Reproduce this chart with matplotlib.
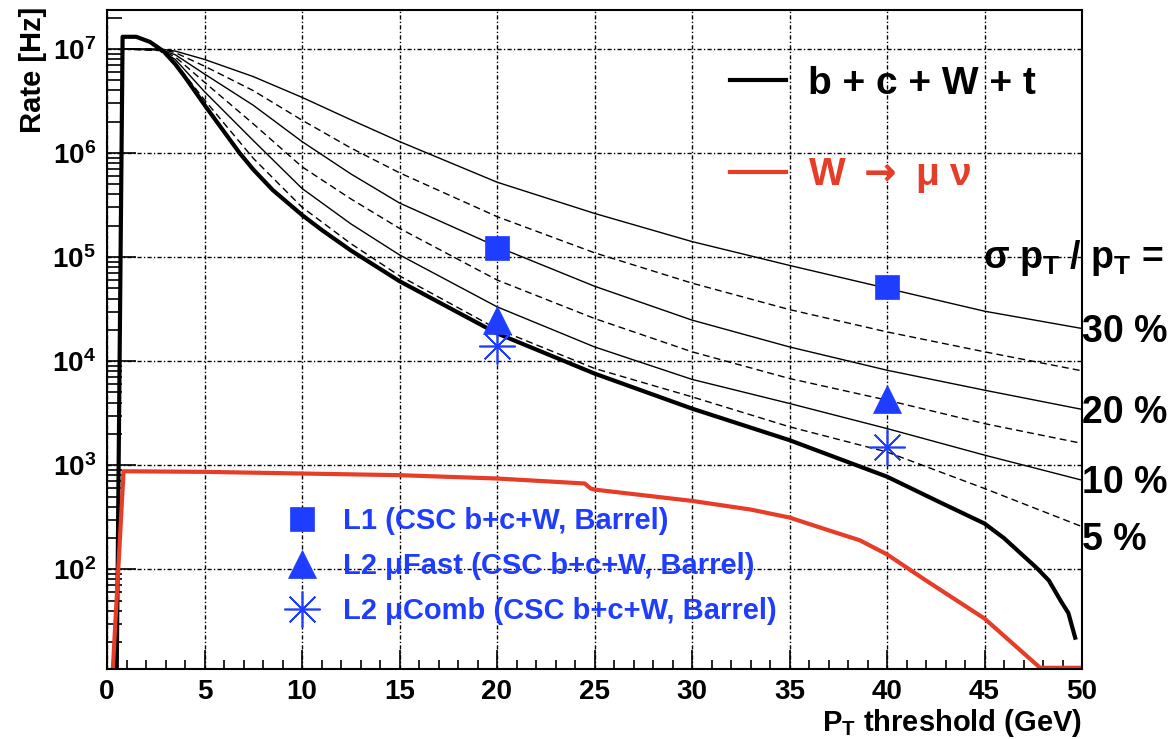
import matplotlib
matplotlib.use('Agg')
import matplotlib.pyplot as plt
from matplotlib.lines import Line2D
from matplotlib.ticker import (FixedLocator, LogLocator, LogFormatterMathtext, MultipleLocator,
                               NullFormatter)

# ---------------- data ----------------
x_total = [0.5, 0.8, 1.5, 2.2, 2.9, 3.5, 4, 5, 6.8, 7.5, 8.5, 10, 11, 12.5, 15, 20, 25, 30, 35, 40,
           42.5, 45, 46, 47.7, 48.3, 48.9, 49.3, 49.65]
rate_total = [11, 1.31e7, 1.31e7, 1.17e7, 9.5e6, 7.15e6, 5.37e6, 2.9e6, 1.0e6, 6.95e5, 4.41e5, 2.54e5,
              1.83e5, 1.16e5, 5.87e4, 1.85e4, 7.6e3, 3.5e3, 1.74e3, 7.76e2, 4.6e2, 2.75e2, 1.99e2,
              1.02e2, 7.8e1, 5.0e1, 3.8e1, 2.2e1]

x_w = [0.3, 0.85, 5, 10, 15, 20, 24.5, 24.8, 25, 30, 33, 35, 37, 38.6, 40, 42, 45, 47.85, 50]
rate_w = [11, 875, 863, 832, 802, 745, 667, 597, 583, 454, 375, 314, 237, 190, 139, 78, 33.6, 11.3, 11.3]

x_sigma = [0.8, 2.7, 3.5, 5, 7.5, 10, 12.5, 15, 20, 25, 30, 35, 40, 45, 50]
rate_sigma30 = [1.0e7, 1.0e7, 9.55e6, 7.94e6, 5.43e6, 3.43e6, 2.09e6, 1.29e6, 5.25e5, 2.63e5, 1.41e5,
                8.32e4, 5.01e4, 3.02e4, 2.06e4]
rate_sigma25 = [1.0e7, 1.0e7, 9.23e6, 6.84e6, 3.98e6, 2.07e6, 1.12e6, 6.46e5, 2.45e5, 1.10e5, 5.62e4,
                3.13e4, 1.91e4, 1.23e4, 8.07e3]
rate_sigma20 = [1.0e7, 9.89e6, 8.81e6, 5.75e6, 2.88e6, 1.29e6, 6.31e5, 3.31e5, 1.26e5, 5.25e4, 2.48e4,
                1.37e4, 8.18e3, 5.26e3, 3.44e3]
rate_sigma15 = [1.0e7, 9.77e6, 8.41e6, 4.79e6, 1.91e6, 7.38e5, 3.63e5, 1.89e5, 6.03e4, 2.57e4, 1.23e4,
                6.81e3, 4.22e3, 2.51e3, 1.62e3]
rate_sigma10 = [1.0e7, 9.77e6, 7.94e6, 3.89e6, 1.32e6, 4.57e5, 2.09e5, 1.05e5, 3.33e4, 1.37e4, 6.68e3,
                3.92e3, 2.25e3, 1.25e3, 7.18e2]
rate_sigma05 = [1.0e7, 9.66e6, 7.41e6, 3.24e6, 8.91e5, 3.02e5, 1.35e5, 6.61e4, 2.04e4, 8.51e3, 4.54e3,
                2.34e3, 1.34e3, 5.97e2, 2.57e2]

x_points = [20, 40]
rate_l1 = [1.21e5, 5.2e4]
rate_l2fast = [2.48e4, 4.3e3]
rate_l2comb = [1.39e4, 1.5e3]

legend_curves = ['b + c + W + t', 'W $\\rightarrow$ \u03bc \u03bd']
legend_points = ['L1 (CSC b+c+W, Barrel)', 'L2 \u03bcFast (CSC b+c+W, Barrel)',
                 'L2 \u03bcComb (CSC b+c+W, Barrel)']
sigma_labels = ['30 %', '20 %', '10 %', '5 %']
x_ticks = [0, 5, 10, 15, 20, 25, 30, 35, 40, 45, 50]
y_ticks = [1e2, 1e3, 1e4, 1e5, 1e6, 1e7]

# ---------------- style ----------------
plt.rcParams['font.family'] = ['Liberation Sans', 'DejaVu Sans']
plt.rcParams['font.weight'] = 'bold'
plt.rcParams['axes.labelweight'] = 'bold'
plt.rcParams['mathtext.fontset'] = 'custom'
plt.rcParams['mathtext.rm'] = 'Liberation Sans:bold'
plt.rcParams['mathtext.it'] = 'Liberation Sans:bold'
plt.rcParams['mathtext.bf'] = 'Liberation Sans:bold'
plt.rcParams['mathtext.sf'] = 'Liberation Sans:bold'

BLUE = '#1f3dff'
RED = '#e63c28'

W, H = 1169, 739
fig = plt.figure(figsize=(W / 100, H / 100), dpi=100)
ax = fig.add_axes([107 / W, 1 - 669 / H, 975 / W, 659 / H])

ax.set_yscale('log')
ax.set_xlim(0, 50)
ax.set_ylim(11, 2.37e7)

gridstyle = (0, (3, 1.6, 1, 1.6))
ax.grid(True, which='major', color='black', linestyle=gridstyle, linewidth=1.0)

thin = dict(color='black', linewidth=1.0)
dash = (0, (5, 3))
ax.plot(x_sigma, rate_sigma30, linestyle='-', **thin)
ax.plot(x_sigma, rate_sigma25, linestyle=dash, **thin)
ax.plot(x_sigma, rate_sigma20, linestyle='-', **thin)
ax.plot(x_sigma, rate_sigma15, linestyle=dash, **thin)
ax.plot(x_sigma, rate_sigma10, linestyle='-', **thin)
ax.plot(x_sigma, rate_sigma05, linestyle=dash, **thin)

h_total, = ax.plot(x_total, rate_total, color='black', linewidth=3.0, solid_joinstyle='round')
h_w, = ax.plot(x_w, rate_w, color=RED, linewidth=3.0, solid_joinstyle='round')

ms_sq, ms_tri, ms_ast = 17, 20, 26
ax.plot(x_points, rate_l1, linestyle='none', marker='s', markersize=ms_sq, color=BLUE, markeredgewidth=0.5)
ax.plot(x_points, rate_l2fast, linestyle='none', marker='^', markersize=ms_tri, color=BLUE, markeredgewidth=0.5)
ax.plot(x_points, rate_l2comb, linestyle='none', marker=(8, 2, 0), markersize=ms_ast, color=BLUE,
        markeredgewidth=1.2)

# ticks
ax.set_xticks(x_ticks)
ax.xaxis.set_minor_locator(MultipleLocator(1))
ax.yaxis.set_major_locator(FixedLocator(y_ticks))
ax.yaxis.set_major_formatter(LogFormatterMathtext())
ax.yaxis.set_minor_locator(LogLocator(base=10, subs=range(2, 10), numticks=20))
ax.yaxis.set_minor_formatter(NullFormatter())
ax.tick_params(axis='x', which='major', direction='in', length=13.5, width=1.2, top=False,
               labelsize=20, pad=7)
ax.tick_params(axis='x', which='minor', direction='in', length=6.8, width=1.2, top=False)
ax.tick_params(axis='y', which='major', direction='in', length=21, width=1.2, right=False,
               labelsize=20, pad=8)
ax.tick_params(axis='y', which='minor', direction='in', length=10.5, width=1.2, right=False)
for s in ax.spines.values():
    s.set_linewidth(1.5)

ax.set_xlabel(r'P$_{T}$ threshold (GeV)', loc='right', fontsize=21, fontweight='bold')
ax.xaxis.set_label_coords(1.0, -0.058)
ax.set_ylabel('Rate [Hz]', loc='top', fontsize=21, fontweight='bold')
ax.yaxis.set_label_coords(-0.062, 1.005)

# legends
leg1 = ax.legend([h_total, h_w], legend_curves, loc='upper left',
                 bbox_to_anchor=(730 / W, 1 - 66 / H), bbox_transform=fig.transFigure,
                 frameon=False, fontsize=28, borderpad=0, borderaxespad=0,
                 handlelength=1.45, handletextpad=0.55, labelspacing=1.4)
for t, c in zip(leg1.get_texts(), ['black', RED]):
    t.set_color(c)
leg1.get_texts()[1].set_math_fontfamily('dejavusans')
ax.add_artist(leg1)

hp = [Line2D([], [], linestyle='none', marker='s', markersize=ms_sq, color=BLUE, markeredgewidth=0.5),
      Line2D([], [], linestyle='none', marker='^', markersize=ms_tri, color=BLUE, markeredgewidth=0.5),
      Line2D([], [], linestyle='none', marker=(8, 2, 0), markersize=ms_ast, color=BLUE, markeredgewidth=1.2)]
leg2 = ax.legend(hp, legend_points, loc='upper left', numpoints=1,
                 bbox_to_anchor=(279 / W, 1 - 507 / H), bbox_transform=fig.transFigure,
                 frameon=False, fontsize=21, borderpad=0, borderaxespad=0,
                 handlelength=1.6, handletextpad=0.58, labelspacing=0.58, labelcolor=BLUE)

# right-hand annotations
fig.text(983 / W, 1 - 268 / H, r'$\sigma$ p$_{T}$ / p$_{T}$ =', fontsize=27, ha='left', va='baseline')
for lab, yb in zip(sigma_labels, [342, 423, 493, 550]):
    fig.text(1082 / W, 1 - yb / H, lab, fontsize=27, ha='left', va='baseline')

fig.savefig('out.png', dpi=100)
